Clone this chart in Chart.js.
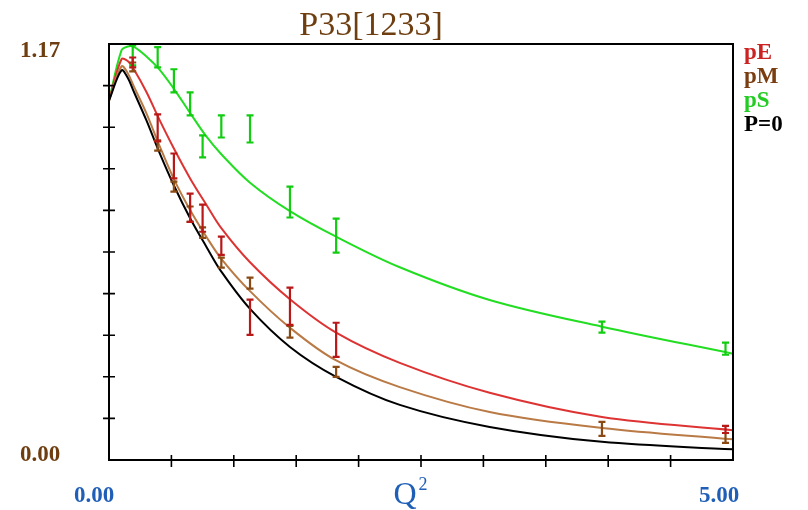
<!DOCTYPE html>
<html>
<head>
<meta charset="utf-8">
<script src="https://cdn.jsdelivr.net/npm/chart.js@4.4.1/dist/chart.umd.min.js"></script>
<style>
    html, body { margin: 0; padding: 0; background: #fff; }
    #wrap { width: 808px; height: 510px; }
</style>
</head>
<body>
<div id="wrap"><canvas id="chart" width="808" height="510"></canvas></div>
<script>
// Curve samples (Q^2 grid shared by all four curves)
const curveQ2 = [0, 0.10, 0.15, 0.20, 0.30, 0.40, 0.52, 0.65, 0.78, 0.90, 1.13, 1.45, 1.82, 2.33, 3.05, 3.95, 5.00];
const curveP0 = [1.011, 1.096, 1.075, 1.035, 0.955, 0.868, 0.772, 0.680, 0.600, 0.530, 0.425, 0.318, 0.234, 0.155, 0.093, 0.051, 0.030];
const curvePM = [1.011, 1.107, 1.088, 1.050, 0.975, 0.888, 0.790, 0.703, 0.628, 0.566, 0.475, 0.372, 0.280, 0.205, 0.135, 0.090, 0.058];
const curvePE = [1.011, 1.127, 1.122, 1.098, 1.035, 0.960, 0.876, 0.792, 0.718, 0.652, 0.556, 0.452, 0.358, 0.273, 0.189, 0.121, 0.084];
const curvePS = [1.011, 1.152, 1.163, 1.162, 1.135, 1.100, 1.044, 0.976, 0.910, 0.860, 0.780, 0.700, 0.628, 0.542, 0.450, 0.375, 0.299];

// Lattice points with error bars (low / high)
const barQ2 = [0.19, 0.39, 0.52, 0.65, 0.75, 0.90, 1.13, 1.45, 1.82, 3.95, 4.94];
const pE_lo = [1.104, 0.896, 0.792, 0.670, 0.642, 0.577, 0.352, 0.380, 0.290, null, 0.076];
const pE_hi = [1.132, 0.972, 0.862, 0.749, 0.718, 0.628, 0.451, 0.485, 0.386, null, 0.096];
const pM_lo = [1.093, 0.870, 0.755, 0.670, 0.625, 0.541, 0.482, 0.344, 0.234, 0.068, 0.048];
const pM_hi = [1.118, 0.899, 0.783, 0.713, 0.654, 0.569, 0.513, 0.377, 0.262, 0.107, 0.076];
const pS_lo = [1.110, 1.104, 1.034, 0.969, 0.851, 0.907, 0.893, 0.682, 0.583, 0.358, 0.296];
const pS_hi = [1.166, 1.161, 1.099, 1.034, 0.913, 0.969, 0.969, 0.769, 0.679, 0.389, 0.330];

// Axis labels
const xMin = 0, xMax = 5;
const yMin = 0, yMax = 1.17;
const xTickLabels = ['0.00', '5.00'];
const yTickLabels = ['0.00', '1.17'];
const legendNames = ['pE', 'pM', 'pS', 'P=0'];
const chartTitle = 'P33[1233]';

const RED = '#dd3333', RED_BAR = '#b81818';
const BROWN = '#b97a45', BROWN_BAR = '#8a4a14';
const GREEN = '#22dd22', GREEN_BAR = '#11cc11';
const TXT_BROWN = '#6e3e10', TXT_BLUE = '#1f5fb8';

function pts(ys) {
    return curveQ2.map((q, i) => ({ x: q, y: ys[i] }));
}

const bars = [
    { lo: pS_lo, hi: pS_hi, color: GREEN_BAR },
    { lo: pM_lo, hi: pM_hi, color: BROWN_BAR },
    { lo: pE_lo, hi: pE_hi, color: RED_BAR }
];

const framePlugin = {
    id: 'frame',
    afterDatasetsDraw(chart) {
        const ctx = chart.ctx;
        const xs = chart.scales.x, ys = chart.scales.y;
        ctx.save();
        ctx.lineWidth = 2.2;
        bars.forEach(b => {
            ctx.strokeStyle = b.color;
            barQ2.forEach((q, i) => {
                if (b.lo[i] == null) return;
                const px = xs.getPixelForValue(q);
                const y1 = ys.getPixelForValue(b.lo[i]);
                const y2 = ys.getPixelForValue(b.hi[i]);
                ctx.beginPath();
                ctx.moveTo(px, y1); ctx.lineTo(px, y2);
                ctx.moveTo(px - 3.5, y1); ctx.lineTo(px + 3.5, y1);
                ctx.moveTo(px - 3.5, y2); ctx.lineTo(px + 3.5, y2);
                ctx.stroke();
            });
        });
        ctx.restore();
    },
    afterDraw(chart) {
        const ctx = chart.ctx;
        const a = chart.chartArea;
        const xs = chart.scales.x, ys = chart.scales.y;
        ctx.save();
        // box
        ctx.strokeStyle = '#000';
        ctx.lineWidth = 2;
        ctx.strokeRect(a.left, a.top, a.right - a.left, a.bottom - a.top);
        // ticks
        ctx.lineWidth = 1.6;
        ctx.beginPath();
        for (let k = 1; k < 10; k++) {
            const py = ys.getPixelForValue(yMax * k / 10);
            ctx.moveTo(a.left - 6, py); ctx.lineTo(a.left + 6, py);
            const px = xs.getPixelForValue(xMax * k / 10);
            ctx.moveTo(px, a.bottom - 5); ctx.lineTo(px, a.bottom + 7);
        }
        ctx.stroke();

        // title
        ctx.fillStyle = TXT_BROWN;
        ctx.font = '34px "Liberation Serif"';
        ctx.textAlign = 'center';
        ctx.textBaseline = 'alphabetic';
        ctx.fillText(chartTitle, 371, 35);

        // y labels
        ctx.font = 'bold 23px "Liberation Serif"';
        ctx.textAlign = 'left';
        ctx.fillText(yTickLabels[1], 20, 57);
        ctx.fillText(yTickLabels[0], 20, 461);

        // x labels
        ctx.fillStyle = TXT_BLUE;
        ctx.textAlign = 'center';
        ctx.fillText(xTickLabels[0], 94, 502);
        ctx.fillText(xTickLabels[1], 719, 502);
        ctx.font = '32px "Liberation Serif"';
        ctx.fillText('Q', 405, 504);
        ctx.font = '18px "Liberation Serif"';
        ctx.fillText('2', 423, 490);

        // legend
        const legendColors = ['#cc2222', '#7a3d10', '#22cc22', '#000'];
        ctx.font = 'bold 23px "Liberation Serif"';
        ctx.textAlign = 'left';
        legendNames.forEach((n, i) => {
            ctx.fillStyle = legendColors[i];
            ctx.fillText(n, 744, 59 + i * 24);
        });
        ctx.restore();
    }
};

const ctx = document.getElementById('chart').getContext('2d');
new Chart(ctx, {
    type: 'line',
    data: {
        datasets: [
            { label: 'P=0', data: pts(curveP0), borderColor: '#000', borderWidth: 2 },
            { label: 'pM', data: pts(curvePM), borderColor: BROWN, borderWidth: 2 },
            { label: 'pE', data: pts(curvePE), borderColor: RED, borderWidth: 2 },
            { label: 'pS', data: pts(curvePS), borderColor: GREEN, borderWidth: 2 }
        ]
    },
    options: {
        responsive: false,
        animation: false,
        devicePixelRatio: 1,
        layout: { padding: { left: 109, right: 75, top: 44, bottom: 50 } },
        elements: {
            point: { radius: 0 },
            line: { tension: 0.35, fill: false }
        },
        plugins: {
            legend: { display: false },
            tooltip: { enabled: false }
        },
        scales: {
            x: { type: 'linear', min: xMin, max: xMax, display: false },
            y: { type: 'linear', min: yMin, max: yMax, display: false }
        }
    },
    plugins: [framePlugin]
});
</script>
</body>
</html>
